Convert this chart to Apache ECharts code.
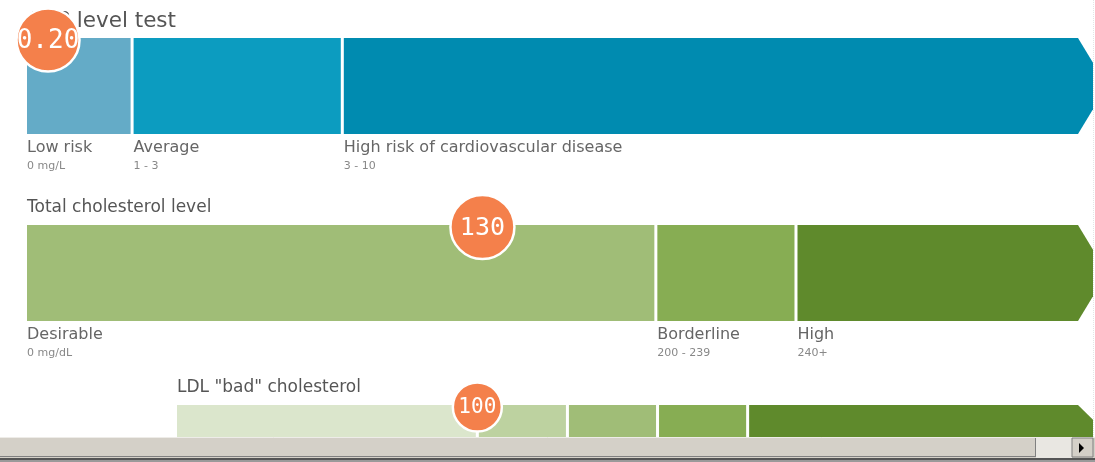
<!DOCTYPE html>
<html>
<head>
<meta charset="utf-8">
<title>Cholesterol and CRP risk levels</title>
<script src="https://cdn.jsdelivr.net/npm/echarts@6/dist/echarts.min.js"></script>
<style>
html, body { margin: 0; padding: 0; background: #fff; overflow: hidden; }
#main { width: 1095px; height: 462px; }
</style>
</head>
<body>
<div id="main"></div>
<script>
// CRP level test (mg/L)
var crpEdges = [0, 1, 3, 10];
var crpNames = ['Low risk', 'Average', 'High risk of cardiovascular disease'];
var crpRanges = ['0 mg/L', '1 - 3', '3 - 10'];
var crpValue = 0.20;

// Total cholesterol (mg/dL) - band edges, marker scale 0-300
var tcEdges = [0, 179.5, 219.5, 300];
var tcNames = ['Desirable', 'Borderline', 'High'];
var tcRanges = ['0 mg/dL', '200 - 239', '240+'];
var tcValue = 130;

// LDL "bad" cholesterol (mg/dL), labels are below the visible area
var ldlEdges = [0, 100, 130, 160, 190, 300];
var ldlValue = 100;

var titles = ['CRP level test', 'Total cholesterol level', 'LDL "bad" cholesterol'];

var crpColors = ['#64abc7', '#0c9cc0', '#008bb0'];
var tcColors = ['#a0bd77', '#87ad53', '#5f8a2c'];
var ldlColors = ['#dbe6cc', '#bdd2a0', '#a0bd77', '#87ad53', '#5f8a2c'];

var FONT = '"DejaVu Sans"';

var myChart = echarts.init(document.getElementById('main'));

function bandData(edges) {
	var out = [];
	for (var i = 0; i < edges.length - 1; i++) {
		out.push([edges[i], edges[i + 1], i]);
	}
	return out;
}

function bandSeries(idx, edges, colors, names, ranges) {
	return {
		type: 'custom',
		xAxisIndex: idx,
		yAxisIndex: idx,
		z: 2,
		silent: true,
		data: bandData(edges),
		renderItem: function (params, api) {
			var from = api.value(0), to = api.value(1), k = api.value(2);
			var last = k === edges.length - 2;
			var a = api.coord([from, 1]);
			var b = api.coord([to, 0]);
			var top = a[1], bottom = b[1];
			var x0 = a[0] + (k > 0 ? 1.5 : 0);
			var x1 = b[0] - (last ? 0 : 1.5);
			var children = [];
			if (last) {
				// arrow end, cut by the page edge
				var half = (bottom - top) / 2;
				var len = 29;
				var edge = api.getWidth() - 2;
				var pts;
				if (x1 + len > edge) {
					var d = (edge - x1) / len * half;
					pts = [[x0, top], [x1, top], [edge, top + d], [edge, bottom - d], [x1, bottom], [x0, bottom]];
				} else {
					pts = [[x0, top], [x1, top], [x1 + len, top + half], [x1, bottom], [x0, bottom]];
				}
				children.push({ type: 'polygon', shape: { points: pts }, style: { fill: colors[k] } });
			} else {
				children.push({ type: 'rect', shape: { x: x0, y: top, width: x1 - x0, height: bottom - top }, style: { fill: colors[k] } });
			}
			if (names) {
				children.push({
					type: 'text', x: x0, y: bottom + 14,
					style: { text: names[k], fill: '#666', font: '16px ' + FONT, verticalAlign: 'middle' }
				});
				children.push({
					type: 'text', x: x0, y: bottom + 32,
					style: { text: ranges[k], fill: '#888', font: '11px ' + FONT, verticalAlign: 'middle' }
				});
			}
			return { type: 'group', children: children };
		}
	};
}

function markerSeries(idx, value, text, r, fontSize) {
	return {
		type: 'custom',
		xAxisIndex: idx,
		yAxisIndex: idx,
		z: 10,
		silent: true,
		data: [[value, 1]],
		renderItem: function (params, api) {
			var p = api.coord([api.value(0), api.value(1)]);
			var cy = p[1] + 2;
			return {
				type: 'group',
				children: [
					{ type: 'circle', shape: { cx: p[0], cy: cy, r: r }, style: { fill: '#f4804b', stroke: '#fff', lineWidth: 2.5 } },
					{ type: 'text', x: p[0], y: cy + 1, style: { text: text, fill: '#fff', font: fontSize + 'px "DejaVu Sans Mono"', align: 'center', verticalAlign: 'middle' } }
				]
			};
		}
	};
}

var option = {
	animation: false,
	title: [
		{ text: titles[0], left: 27, top: 10, padding: 0, textStyle: { fontFamily: 'DejaVu Sans', fontSize: 21.5, fontWeight: 'normal', color: '#555' } },
		{ text: titles[1], left: 27, top: 199, padding: 0, textStyle: { fontFamily: 'DejaVu Sans', fontSize: 17, fontWeight: 'normal', color: '#555' } },
		{ text: titles[2], left: 177, top: 379, padding: 0, textStyle: { fontFamily: 'DejaVu Sans', fontSize: 17, fontWeight: 'normal', color: '#555' } }
	],
	grid: [
		{ left: 27, width: 1051, top: 38, height: 96 },
		{ left: 27, width: 1051, top: 225, height: 96 },
		{ left: 177, width: 901, top: 405, height: 96 }
	],
	xAxis: [
		{ gridIndex: 0, type: 'value', min: 0, max: 10, show: false },
		{ gridIndex: 1, type: 'value', min: 0, max: 300, show: false },
		{ gridIndex: 2, type: 'value', min: 0, max: 300, show: false }
	],
	yAxis: [
		{ gridIndex: 0, type: 'value', min: 0, max: 1, show: false },
		{ gridIndex: 1, type: 'value', min: 0, max: 1, show: false },
		{ gridIndex: 2, type: 'value', min: 0, max: 1, show: false }
	],
	series: [
		bandSeries(0, crpEdges, crpColors, crpNames, crpRanges),
		bandSeries(1, tcEdges, tcColors, tcNames, tcRanges),
		bandSeries(2, ldlEdges, ldlColors, null, null),
		markerSeries(0, crpValue, crpValue.toFixed(2), 31.5, 26),
		markerSeries(1, tcValue, String(tcValue), 32, 25),
		markerSeries(2, ldlValue, String(ldlValue), 24.5, 21)
	],
	graphic: [
		// page edge
		{ type: 'line', z: 20, shape: { x1: 1093.5, y1: 0, x2: 1093.5, y2: 437 }, style: { stroke: '#e4e4e4', lineWidth: 1, lineDash: [1, 1] } },
		// scrollbar
		{ type: 'rect', z: 30, shape: { x: 0, y: 437, width: 1095, height: 25 }, style: { fill: '#d4d0c8' } },
		{ type: 'rect', z: 31, shape: { x: 1036, y: 438, width: 36, height: 21 }, style: { fill: '#e9e7e2' } },
		{ type: 'line', z: 32, shape: { x1: 0, y1: 437.5, x2: 1095, y2: 437.5 }, style: { stroke: '#eeece8', lineWidth: 1 } },
		{ type: 'line', z: 32, shape: { x1: 0, y1: 456.5, x2: 1036, y2: 456.5 }, style: { stroke: '#808080', lineWidth: 1 } },
		{ type: 'line', z: 32, shape: { x1: 1035.5, y1: 438, x2: 1035.5, y2: 457 }, style: { stroke: '#808080', lineWidth: 1 } },
		{ type: 'rect', z: 32, shape: { x: 1072, y: 438, width: 21, height: 19 }, style: { fill: '#d4d0c8', stroke: '#808080', lineWidth: 1 } },
		{ type: 'polygon', z: 33, shape: { points: [[1079, 443], [1079, 453], [1084, 448]] }, style: { fill: '#000' } },
		{ type: 'rect', z: 32, shape: { x: 0, y: 458, width: 1095, height: 2 }, style: { fill: '#555' } },
		{ type: 'rect', z: 32, shape: { x: 0, y: 460, width: 1095, height: 2 }, style: { fill: '#9a9a9a' } }
	]
};

myChart.setOption(option);
window.addEventListener('resize', function () {
	myChart.resize();
});
</script>
</body>
</html>
